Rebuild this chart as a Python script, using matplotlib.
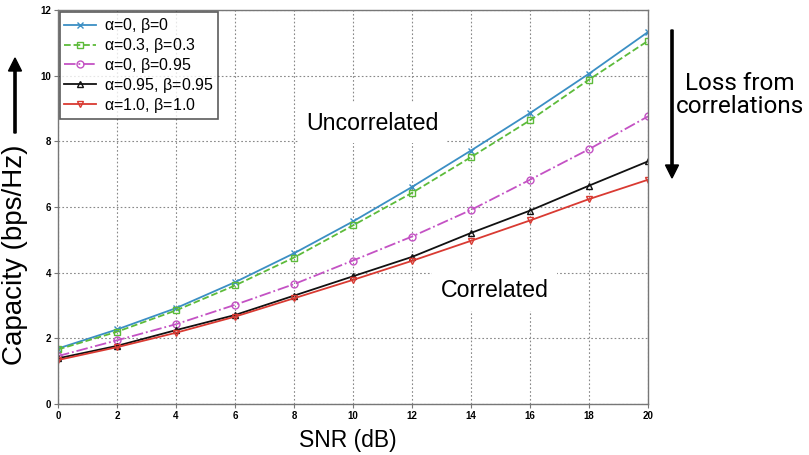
import numpy as np
import matplotlib.pyplot as plt
from matplotlib.patches import FancyArrow

snr_db = [0, 2, 4, 6, 8, 10, 12, 14, 16, 18, 20]

cap_a0_b0 = [1.69, 2.27, 2.92, 3.71, 4.59, 5.56, 6.61, 7.72, 8.86, 10.06, 11.33]
cap_a03_b03 = [1.66, 2.20, 2.85, 3.61, 4.46, 5.44, 6.43, 7.52, 8.64, 9.88, 11.06]
cap_a0_b095 = [1.46, 1.94, 2.43, 3.02, 3.65, 4.37, 5.10, 5.91, 6.83, 7.76, 8.76]
cap_a095_b095 = [1.39, 1.77, 2.25, 2.71, 3.30, 3.89, 4.48, 5.21, 5.89, 6.65, 7.39]
cap_a1_b1 = [1.34, 1.73, 2.17, 2.66, 3.22, 3.78, 4.36, 4.97, 5.59, 6.24, 6.83]

series = [
    (cap_a0_b0, r'$\alpha$=0, $\beta$=0', '#3b8fc4', '-', 'x'),
    (cap_a03_b03, r'$\alpha$=0.3, $\beta$=0.3', '#5dbb3a', '--', 's'),
    (cap_a0_b095, r'$\alpha$=0, $\beta$=0.95', '#c452c4', '-.', 'o'),
    (cap_a095_b095, r'$\alpha$=0.95, $\beta$=0.95', '#111111', '-', '^'),
    (cap_a1_b1, r'$\alpha$=1.0, $\beta$=1.0', '#d93a32', '-', 'v'),
]

plt.rcParams['font.family'] = ['Liberation Sans', 'DejaVu Sans']
plt.rcParams['mathtext.fontset'] = 'custom'
plt.rcParams['mathtext.rm'] = 'Liberation Sans'
plt.rcParams['mathtext.it'] = 'Liberation Sans'

W, H = 809, 455
fig = plt.figure(figsize=(W / 100, H / 100), dpi=100)
ax = fig.add_axes([58 / W, 51 / H, 590 / W, 394 / H])

for vals, label, color, ls, mk in series:
    ax.plot(snr_db, vals, color=color, ls=ls, lw=1.3, marker=mk, ms=5,
            mfc='none', mec=color, mew=1.0, label=label)

ax.set_xlim(0, 20)
ax.set_ylim(0, 12)
ax.set_xticks(np.arange(0, 21, 2))
ax.set_yticks(np.arange(0, 13, 2))
ax.tick_params(labelsize=7, length=3, color='#777777', pad=2)
for lbl in ax.get_xticklabels() + ax.get_yticklabels():
    lbl.set_fontweight('bold')
for sp in ax.spines.values():
    sp.set_color('#777777')
    sp.set_linewidth(1.0)
ax.grid(True, ls=(0, (1.5, 2)), color='#888888', lw=0.8)

leg = ax.legend(loc='upper left', fontsize=11.5, frameon=True, fancybox=False,
                borderpad=0.25, labelspacing=0.05, handlelength=2.0,
                handletextpad=0.5, borderaxespad=0.15)
leg.get_frame().set_edgecolor('#333333')
leg.get_frame().set_linewidth(1.2)

box = dict(facecolor='white', edgecolor='none', pad=6)
ax.text(10.65, 8.55, 'Uncorrelated', fontsize=16.7, ha='center', va='center', bbox=box)
ax.text(14.8, 3.45, 'Correlated', fontsize=16.7, ha='center', va='center', bbox=box)

fig.text(348 / W, 1 - 441 / H, 'SNR (dB)', fontsize=16.5, ha='center', va='center')
fig.text(15 / W, 1 - 255 / H, 'Capacity (bps/Hz)', fontsize=20,
         rotation=90, ha='center', va='center')

# direction arrows beside the axes
fig.patches.append(FancyArrow(
    15 / W, 1 - 133 / H, 0, 75 / H, width=2.2 / W, head_width=13 / W,
    head_length=13 / H, length_includes_head=True, color='black',
    transform=fig.transFigure))
fig.patches.append(FancyArrow(
    672 / W, 1 - 30 / H, 0, -148 / H, width=2.2 / W, head_width=13 / W,
    head_length=13 / H, length_includes_head=True, color='black',
    transform=fig.transFigure))
fig.text(740 / W, 1 - 95 / H, 'Loss from\ncorrelations', fontsize=17.5,
         ha='center', va='center', linespacing=1.0, family=['Roboto'])

fig.savefig('out.png', dpi=100)
